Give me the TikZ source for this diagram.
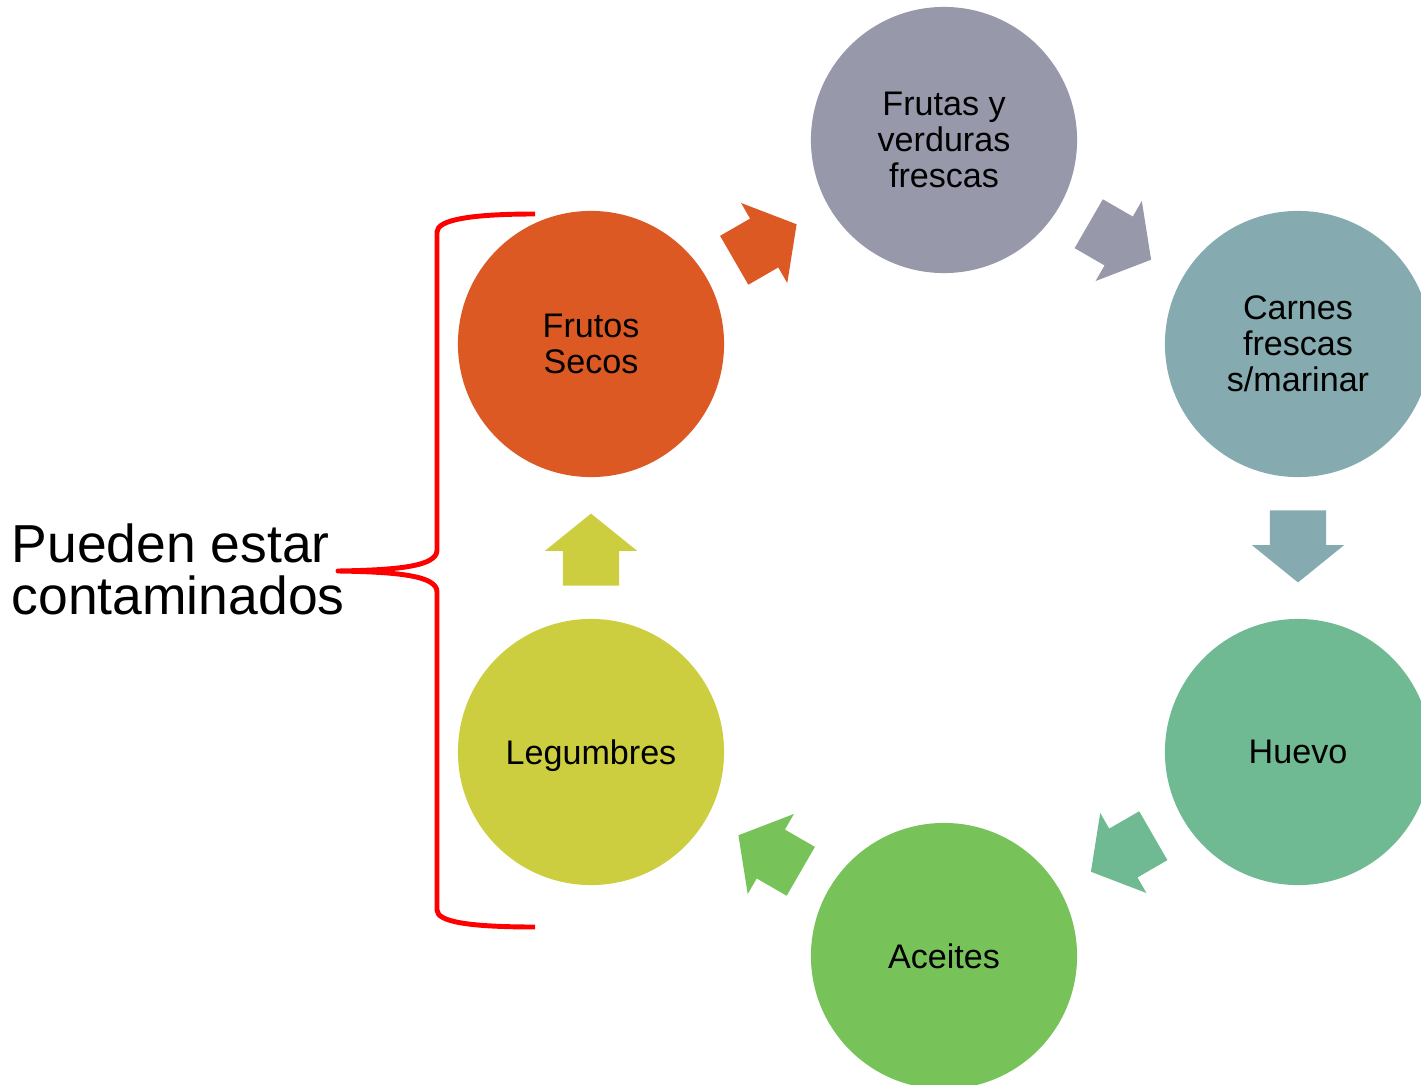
\documentclass[tikz,border=0pt]{standalone}
\usepackage{fontspec}
\setmainfont{Liberation Sans}
\usetikzlibrary{positioning,calc,shapes.arrows}
\definecolor{cSecos}{RGB}{221,89,35}
\definecolor{cFrutas}{RGB}{152,152,171}
\definecolor{cCarnes}{RGB}{133,171,176}
\definecolor{cHuevo}{RGB}{111,186,146}
\definecolor{cAceites}{RGB}{119,195,90}
\definecolor{cLegumbres}{RGB}{205,206,63}
\definecolor{cLlave}{RGB}{255,0,0}
\tikzset{
  circulo/.style={circle, minimum size=2.66cm, inner sep=0pt, align=center,
    font=\fontsize{9.7}{10.2}\selectfont, text=black},
  flecha/.style={single arrow, minimum height=0.72cm, inner xsep=0pt, inner ysep=0.275cm,
    single arrow head extend=0.18cm, single arrow tip angle=102},
  llave/.style={draw=cLlave, line width=1.4pt, line join=round}
}

\begin{document}
\begin{tikzpicture}[x=0.01cm,y=-0.01cm]
        \useasboundingbox (0,0) rectangle (1421,1085);
        \clip (0,0) rectangle (1421,1085);

        % circulos
        \node[circulo, fill=cSecos] (secos) at (591,344) {Frutos\\Secos};
        \node[circulo, fill=cFrutas] (frutas) at (944,140) {Frutas y\\verduras\\frescas};
        \node[circulo, fill=cCarnes] (carnes) at (1298,344) {Carnes\\frescas\\s/marinar};
        \node[circulo, fill=cHuevo] (huevo) at (1298,752) {Huevo};
        \node[circulo, fill=cAceites] (aceites) at (944,956) {Aceites};
        \node[circulo, fill=cLegumbres, text depth=0pt] (legumbres) at (591,752) {Legumbres};

        % flechas entre circulos
        \node[flecha, fill=cSecos, rotate=30] (f1) at ($(secos)!0.5!(frutas)+(-12,6)$) {};
        \node[flecha, fill=cFrutas, rotate=-30] (f2) at ($(frutas)!0.5!(carnes)+(-11,-6)$) {};
        \node[flecha, fill=cCarnes, rotate=-90] (f3) at ($(carnes)!0.5!(huevo)+(0,-13)$) {};
        \node[flecha, fill=cHuevo, rotate=210] (f4) at ($(huevo)!0.5!(aceites)+(11,-6)$) {};
        \node[flecha, fill=cAceites, rotate=150] (f5) at ($(aceites)!0.5!(legumbres)+(12,5)$) {};
        \node[flecha, fill=cLegumbres, rotate=90] (f6) at ($(legumbres)!0.5!(secos)+(0,13)$) {};

        % llave y texto
        \coordinate (punta) at (338,571);
        \node[anchor=west, align=left, inner sep=0pt, font=\fontsize{15.2}{14.8}\selectfont] (texto) at (11,569) {Pueden estar\\contaminados};
        \draw[llave] (535,214) .. controls (470,214) and (437,220) .. (437,232) -- (437,550)
            .. controls (437,566) and (400,570) .. (punta)
            .. controls (400,572) and (437,576) .. (437,592) -- (437,910)
            .. controls (437,922) and (470,927) .. (535,927);
    \end{tikzpicture}
\end{document}
